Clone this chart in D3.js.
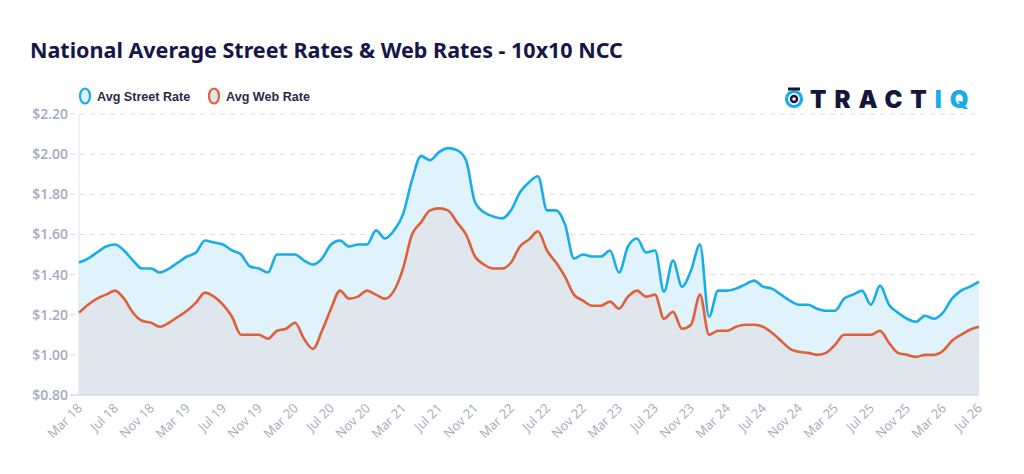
<!DOCTYPE html>
<html><head><meta charset="utf-8">
<script src="https://cdn.jsdelivr.net/npm/d3@7/dist/d3.min.js"></script>
<style>
body{margin:0;background:#fff;}
svg{display:block;font-family:"Open Sans","Noto Sans",sans-serif;}
</style></head>
<body><svg id="c" width="1024" height="474"></svg>
<script>
const startYear = 2018, startMonth = 2; // March 2018
const monthNames = ["Jan","Feb","Mar","Apr","May","Jun","Jul","Aug","Sep","Oct","Nov","Dec"];
const streetRate = [
 1.46,1.48,1.51,1.54,1.55,1.52,1.47,1.43,1.43,1.41,
 1.43,1.46,1.49,1.51,1.57,1.56,1.55,1.52,1.50,1.44,
 1.43,1.41,1.50,1.50,1.50,1.47,1.45,1.48,1.55,1.57,
 1.54,1.55,1.55,1.62,1.58,1.62,1.70,1.87,1.99,1.97,
 2.01,2.03,2.02,1.97,1.76,1.71,1.69,1.68,1.72,1.81,
 1.86,1.89,1.72,1.72,1.65,1.48,1.50,1.49,1.49,1.52,
 1.41,1.54,1.58,1.51,1.52,1.315,1.47,1.34,1.42,1.55,
 1.19,1.32,1.32,1.33,1.35,1.37,1.34,1.33,1.30,1.27,
 1.25,1.25,1.23,1.22,1.22,1.28,1.30,1.32,1.25,1.345,
 1.25,1.21,1.18,1.165,1.195,1.18,1.21,1.28,1.32,1.34,
 1.365
];
const webRate = [
 1.21,1.25,1.28,1.30,1.32,1.28,1.21,1.17,1.16,1.14,
 1.16,1.19,1.22,1.26,1.31,1.29,1.25,1.19,1.10,1.10,
 1.10,1.08,1.12,1.13,1.16,1.08,1.03,1.12,1.23,1.32,
 1.28,1.29,1.32,1.30,1.28,1.32,1.43,1.60,1.66,1.72,
 1.73,1.72,1.66,1.60,1.49,1.45,1.43,1.43,1.46,1.54,
 1.575,1.615,1.52,1.46,1.39,1.30,1.27,1.245,1.245,1.265,
 1.23,1.29,1.32,1.29,1.30,1.18,1.215,1.13,1.15,1.30,
 1.10,1.12,1.12,1.14,1.15,1.15,1.14,1.11,1.07,1.03,
 1.015,1.01,1.00,1.01,1.05,1.10,1.10,1.10,1.10,1.12,
 1.06,1.01,1.00,0.99,1.00,1.00,1.02,1.07,1.10,1.125,
 1.14
];
const yTicks = [0.8,1.0,1.2,1.4,1.6,1.8,2.0,2.2];
const seriesNames = ["Avg Street Rate","Avg Web Rate"];

const months = streetRate.map((_,i)=>new Date(startYear, startMonth+i, 1));
const fmtLabel = d => monthNames[d.getMonth()] + " " + String(d.getFullYear()).slice(2);
const xTickIdx = d3.range(0, months.length, 4);

const svg = d3.select("#c");
const L = 79, R = 979, T = 114, B = 395;
const x = d3.scaleLinear().domain([0, months.length-1]).range([L, R]);
const y = d3.scaleLinear().domain([0.8, 2.2]).range([B, T]);

// title
svg.append("text").attr("x",30).attr("y",58).text("National Average Street Rates & Web Rates - 10x10 NCC")
  .attr("font-size",21.5).attr("font-weight",700).attr("fill","#16164a")
  .style("font-family","'Noto Sans','Open Sans',sans-serif");

// grid
svg.append("g").selectAll("line").data(yTicks.slice(1)).join("line")
  .attr("x1",70).attr("x2",R).attr("y1",d=>y(d)).attr("y2",d=>y(d))
  .attr("stroke","#d9dce6").attr("stroke-width",1).attr("stroke-dasharray","5,5");

const curve = d3.curveMonotoneX;
const areaS = d3.area().x((d,i)=>x(i)).y0(B).y1(d=>y(d)).curve(curve);
const areaW = d3.area().x((d,i)=>x(i)).y0(B).y1(d=>y(d)).curve(curve);
const line = d3.line().x((d,i)=>x(i)).y(d=>y(d)).curve(curve);

svg.append("path").datum(streetRate).attr("d",areaS).attr("fill","#e0f3fc");
svg.append("path").datum(webRate).attr("d",areaW).attr("fill","#dfe6ee");

// axes lines
svg.append("line").attr("x1",L).attr("x2",L).attr("y1",T).attr("y2",B).attr("stroke","#dde2ea");
svg.append("line").attr("x1",70).attr("x2",R).attr("y1",B).attr("y2",B).attr("stroke","#d3dbe5").attr("stroke-width",1.5);

svg.append("path").datum(webRate).attr("d",line).attr("fill","none").attr("stroke","#e0603a").attr("stroke-width",2.6);
svg.append("path").datum(streetRate).attr("d",line).attr("fill","none").attr("stroke","#18ade8").attr("stroke-width",2.6);

// y labels
svg.append("g").selectAll("text").data(yTicks).join("text")
  .attr("x",68).attr("y",d=>y(d)+5).attr("text-anchor","end")
  .attr("font-size",14).attr("font-weight",600).attr("fill","#a4abbc").text(d=>"$"+d.toFixed(2));

// x labels
svg.append("g").selectAll("text").data(xTickIdx).join("text")
  .attr("transform",i=>`translate(${x(i)+4},${B+14}) rotate(-45)`)
  .attr("text-anchor","end").attr("font-size",13).attr("fill","#a4abbc")
  .text(i=>fmtLabel(months[i]));

// legend
const colors = ["#18ade8","#e0603a"], fills=["#e0f3fc","#dfe6ee"];
const lg = svg.append("g");
const lx = [85, 214];
seriesNames.forEach((n,k)=>{
  lg.append("ellipse").attr("cx",lx[k]).attr("cy",96).attr("rx",5).attr("ry",7.5)
    .attr("fill",fills[k]).attr("stroke",colors[k]).attr("stroke-width",2.2);
  lg.append("text").attr("x",lx[k]+12).attr("y",100.5).text(n)
    .attr("font-size",12.6).attr("font-weight",700).attr("fill","#2b2a48")
    .style("font-family","'Liberation Sans',Arial,sans-serif");
});

// logo
const logo = svg.append("g");
logo.append("circle").attr("cx",794).attr("cy",99).attr("r",7.5).attr("fill","none").attr("stroke","#18ade8").attr("stroke-width",3.2);
logo.append("circle").attr("cx",794).attr("cy",99).attr("r",3).attr("fill","none").attr("stroke","#16163a").attr("stroke-width",2.5);
logo.append("path").attr("d","M788 89 L800 89").attr("stroke","#16163a").attr("stroke-width",3);
const lt = logo.append("text").attr("x",810).attr("y",108).attr("font-size",24).attr("font-weight",900)
  .attr("letter-spacing",8).style("font-family","'Inter','Noto Sans',sans-serif");
lt.append("tspan").attr("fill","#16163a").text("TRACT");
lt.append("tspan").attr("fill","#18ade8").text("IQ");
</script></body></html>
